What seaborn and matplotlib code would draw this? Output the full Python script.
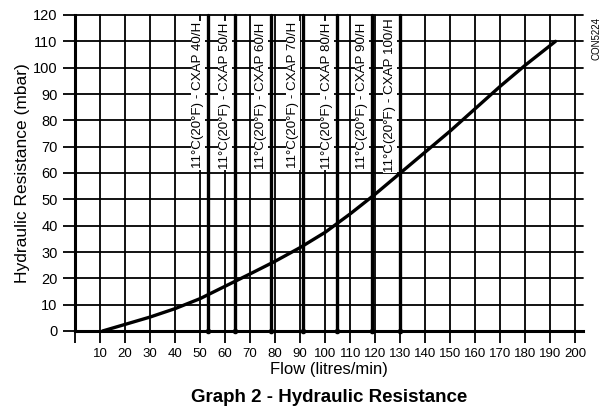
import matplotlib
matplotlib.use('Agg')
import matplotlib.pyplot as plt
import seaborn as sns
import pandas as pd

# curve
flow = [11, 20, 30, 40, 50, 60, 70, 80, 90, 100, 110, 120, 130, 140, 150, 160, 170, 180, 192]
resistance = [0, 2.5, 5.3, 8.5, 12.3, 17, 21.7, 26.5, 31.7, 37.5, 44.5, 52, 60, 68, 76, 84.5, 93, 101, 110]

# model flow limits at 11°C (20°F)
models = ['CXAP 40/H', 'CXAP 50/H', 'CXAP 60/H', 'CXAP 70/H', 'CXAP 80/H', 'CXAP 90/H', 'CXAP 100/H']
model_flow = [53.3, 64, 78.4, 91.2, 104.8, 118.8, 130]

x_ticks = list(range(0, 201, 10))
y_ticks = list(range(0, 121, 10))

sns.set_style('white')
plt.rcParams['font.family'] = ['Liberation Sans', 'DejaVu Sans']
plt.rcParams['text.color'] = 'black'
plt.rcParams['axes.labelcolor'] = 'black'
plt.rcParams['xtick.color'] = 'black'
plt.rcParams['ytick.color'] = 'black'

fig = plt.figure(figsize=(6.09, 4.12), dpi=100)
ax = fig.add_axes([75 / 609, 81 / 412, 508 / 609, 316 / 412])

df = pd.DataFrame({'flow': flow, 'res': resistance})
sns.lineplot(data=df, x='flow', y='res', ax=ax, color='black', lw=2.4, zorder=5)

for name, fx in zip(models, model_flow):
    ax.plot([fx, fx], [0, 120], color='black', lw=2.4, zorder=3, clip_on=False)
    ax.plot(fx, 0, 'o', color='black', ms=3, zorder=4, clip_on=False)
    ax.text(fx - 4.2, 89.5, f'11°C(20°F) - {name}', rotation=90, ha='center', va='center',
            fontsize=9.6, zorder=4,
            bbox=dict(facecolor='white', edgecolor='none', pad=0.8))

ax.set_xlim(0, 203)
ax.set_ylim(0, 120)
ax.set_xticks(x_ticks)
ax.set_xticklabels([''] + [str(v) for v in x_ticks[1:]], fontsize=9.5)
ax.set_yticks(y_ticks)
ax.set_yticklabels([str(v) for v in y_ticks], fontsize=10.5)
ax.tick_params(axis='both', direction='out', length=8.5, width=1.3, color='black', pad=4,
               left=True, bottom=True)
ax.grid(True, color='black', lw=1.3)
for t in ax.get_xgridlines() + ax.get_ygridlines():
    t.set_clip_on(False)
ax.set_axisbelow(True)

for s in ['top', 'right']:
    ax.spines[s].set_visible(False)
for s in ['left', 'bottom']:
    ax.spines[s].set_color('black')
    ax.spines[s].set_linewidth(2.2)

ax.set_xlabel('Flow (litres/min)', fontsize=12, labelpad=1)
ax.set_ylabel('Hydraulic Resistance (mbar)', fontsize=12.5, labelpad=2)
fig.text(329 / 609, 1 - 398 / 412, 'Graph 2 - Hydraulic Resistance', ha='center', va='center',
         fontsize=13.5, fontweight='bold')
fig.text(597 / 609, 1 - 38 / 412, 'CON5224', rotation=90, ha='center', va='center', fontsize=7)

fig.savefig('out.png', dpi=100)
